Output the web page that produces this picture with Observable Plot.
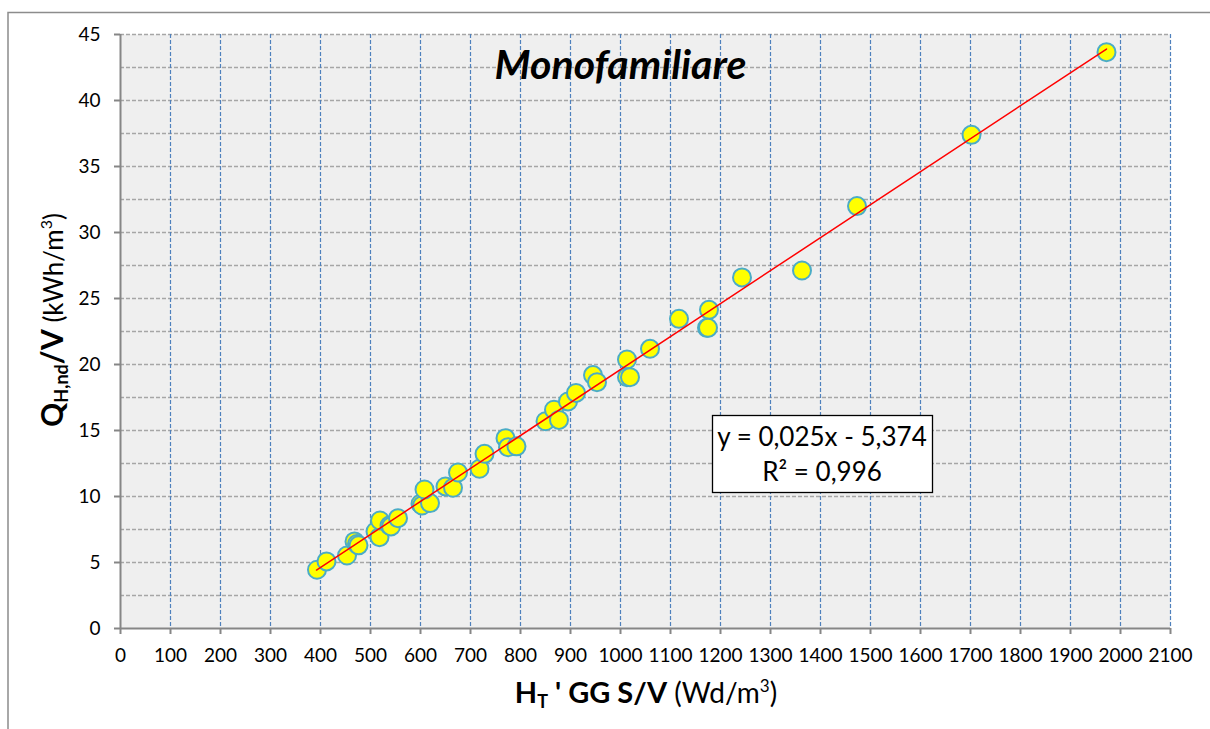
<!DOCTYPE html>
<html><head><meta charset="utf-8">
<script src="https://cdn.jsdelivr.net/npm/d3@7"></script>
<script src="https://cdn.jsdelivr.net/npm/@observablehq/plot@0.6"></script>
<style>
html,body{margin:0;padding:0;background:#fff;}
#chart{position:relative;width:1210px;height:729px;overflow:hidden;}
</style></head><body><div id="chart"></div>
<script>
const titleText = "Monofamiliare";
const xValues = [393, 412, 453, 468, 473, 476, 510, 518, 519, 538, 541, 555, 600, 603, 619, 608, 650, 665, 675, 718, 728, 770, 775, 792, 850, 867, 877, 895, 911, 945, 953, 1013, 1013, 1019, 1059, 1117, 1177, 1173, 1175, 1243, 1363, 1473, 1702, 1972];
const yValues = [4.45, 5.08, 5.53, 6.6, 6.4, 6.3, 7.35, 6.92, 8.18, 7.8, 7.73, 8.36, 9.45, 9.32, 9.5, 10.53, 10.76, 10.66, 11.82, 12.1, 13.23, 14.42, 13.74, 13.8, 15.7, 16.57, 15.8, 17.2, 17.85, 19.2, 18.66, 20.38, 19.04, 19.04, 21.19, 23.46, 24.14, 22.78, 22.78, 26.6, 27.12, 32.0, 37.4, 43.66];
const xTicks = [0, 100, 200, 300, 400, 500, 600, 700, 800, 900, 1000, 1100, 1200, 1300, 1400, 1500, 1600, 1700, 1800, 1900, 2000, 2100];
const yTicks = [0, 5, 10, 15, 20, 25, 30, 35, 40, 45];
const yMinorGrid = [2.5, 7.5, 12.5, 17.5, 22.5, 27.5, 32.5, 37.5, 42.5];
const trendX = [392, 1972];
const trendY = [4.43, 43.9];
const eqText = "y = 0,025x - 5,374";
const r2Text = "R² = 0,996";
const yLabelParts = ["Q", "H,nd", "/V", " (kWh/m", "3", ")"];
const xLabelParts = ["H", "T", " ' GG S/V", " (Wd/m", "3", ")"];

const FONT = "Lato, 'Open Sans', sans-serif";
const points = xValues.map((x, i) => ({x, y: yValues[i]}));
const trend = trendX.map((x, i) => ({x, y: trendY[i]}));

const plot = Plot.plot({
  width: 1210, height: 729,
  marginLeft: 120, marginRight: 40, marginTop: 34, marginBottom: 101,
  style: {fontFamily: FONT, fontSize: "19px", background: "transparent", overflow: "visible"},
  x: {domain: [0, 2100]},
  y: {domain: [0, 45]},
  marks: [
    Plot.frame({fill: "#efefef", stroke: null}),
    Plot.ruleY(yTicks.filter(d => d > 0).concat(yMinorGrid), {stroke: "#a6a6a6", strokeWidth: 1.5, strokeDasharray: "4,2"}),
    Plot.ruleX(xTicks.filter(d => d > 0), {stroke: "#4f81bd", strokeWidth: 1.2, strokeDasharray: "4,2"}),
    Plot.axisX({ticks: xTicks, tickSize: 6, tickPadding: 14, fontSize: 19, stroke: "#868686", strokeWidth: 2, fill: "#000", label: null, tickFormat: d => String(d)}),
    Plot.axisY({ticks: yTicks, tickSize: 6, tickPadding: 14, fontSize: 19, stroke: "#868686", strokeWidth: 2, fill: "#000", label: null, tickFormat: d => String(d)}),
    Plot.ruleY([0], {stroke: "#868686", strokeWidth: 2}),
    Plot.ruleX([0], {stroke: "#868686", strokeWidth: 2}),
    Plot.dot(points, {x: "x", y: "y", r: 9, fill: "#ffff00", stroke: "#4bacc6", strokeWidth: 2}),
    Plot.line(trend, {x: "x", y: "y", stroke: "#ff0000", strokeWidth: 1.5}),
    Plot.text([titleText], {frameAnchor: "top", dx: -25, dy: 31, fontSize: 41, fontWeight: "bold", fontStyle: "italic", fill: "#000", lineAnchor: "middle"})
  ]
});
document.getElementById("chart").appendChild(plot);

const svg = d3.select(plot);
// outer chart frame
svg.append("rect").attr("x", 8).attr("y", 12.5).attr("width", 1300).attr("height", 800)
  .attr("fill", "none").attr("stroke", "#8c8c8c").attr("stroke-width", 1.5);

// y label
const yl = svg.append("text").attr("transform", "translate(63,320) rotate(-90)")
  .attr("text-anchor", "middle").attr("font-family", FONT).attr("fill", "#000");
yl.append("tspan").attr("font-weight", "bold").attr("font-size", 30).text(yLabelParts[0]);
yl.append("tspan").attr("font-weight", "bold").attr("font-size", 18).attr("dy", 5).text(yLabelParts[1]);
yl.append("tspan").attr("font-weight", "bold").attr("font-size", 30).attr("dy", -5).text(yLabelParts[2]);
yl.append("tspan").attr("font-size", 26).text(yLabelParts[3]);
yl.append("tspan").attr("font-size", 16).attr("dy", -11).text(yLabelParts[4]);
yl.append("tspan").attr("font-size", 26).attr("dy", 11).text(yLabelParts[5]);

// x label
const xl = svg.append("text").attr("transform", "translate(646,703)")
  .attr("text-anchor", "middle").attr("font-family", FONT).attr("fill", "#000");
xl.append("tspan").attr("font-weight", "bold").attr("font-size", 29).text(xLabelParts[0]);
xl.append("tspan").attr("font-weight", "bold").attr("font-size", 18).attr("dy", 5).text(xLabelParts[1]);
xl.append("tspan").attr("font-weight", "bold").attr("font-size", 29).attr("dy", -5).text(xLabelParts[2]);
xl.append("tspan").attr("font-size", 28).text(xLabelParts[3]);
xl.append("tspan").attr("font-size", 17).attr("dy", -11).text(xLabelParts[4]);
xl.append("tspan").attr("font-size", 28).attr("dy", 11).text(xLabelParts[5]);

// equation box
svg.append("rect").attr("x", 712.5).attr("y", 415.5).attr("width", 220).attr("height", 77)
  .attr("fill", "#fff").attr("stroke", "#000").attr("stroke-width", 1.3);
svg.append("text").attr("x", 822).attr("y", 446).attr("text-anchor", "middle")
  .attr("font-family", FONT).attr("font-size", 26).attr("fill", "#000").text(eqText);
svg.append("text").attr("x", 822).attr("y", 481).attr("text-anchor", "middle")
  .attr("font-family", FONT).attr("font-size", 26).attr("fill", "#000").text(r2Text);
</script>
</body></html>
